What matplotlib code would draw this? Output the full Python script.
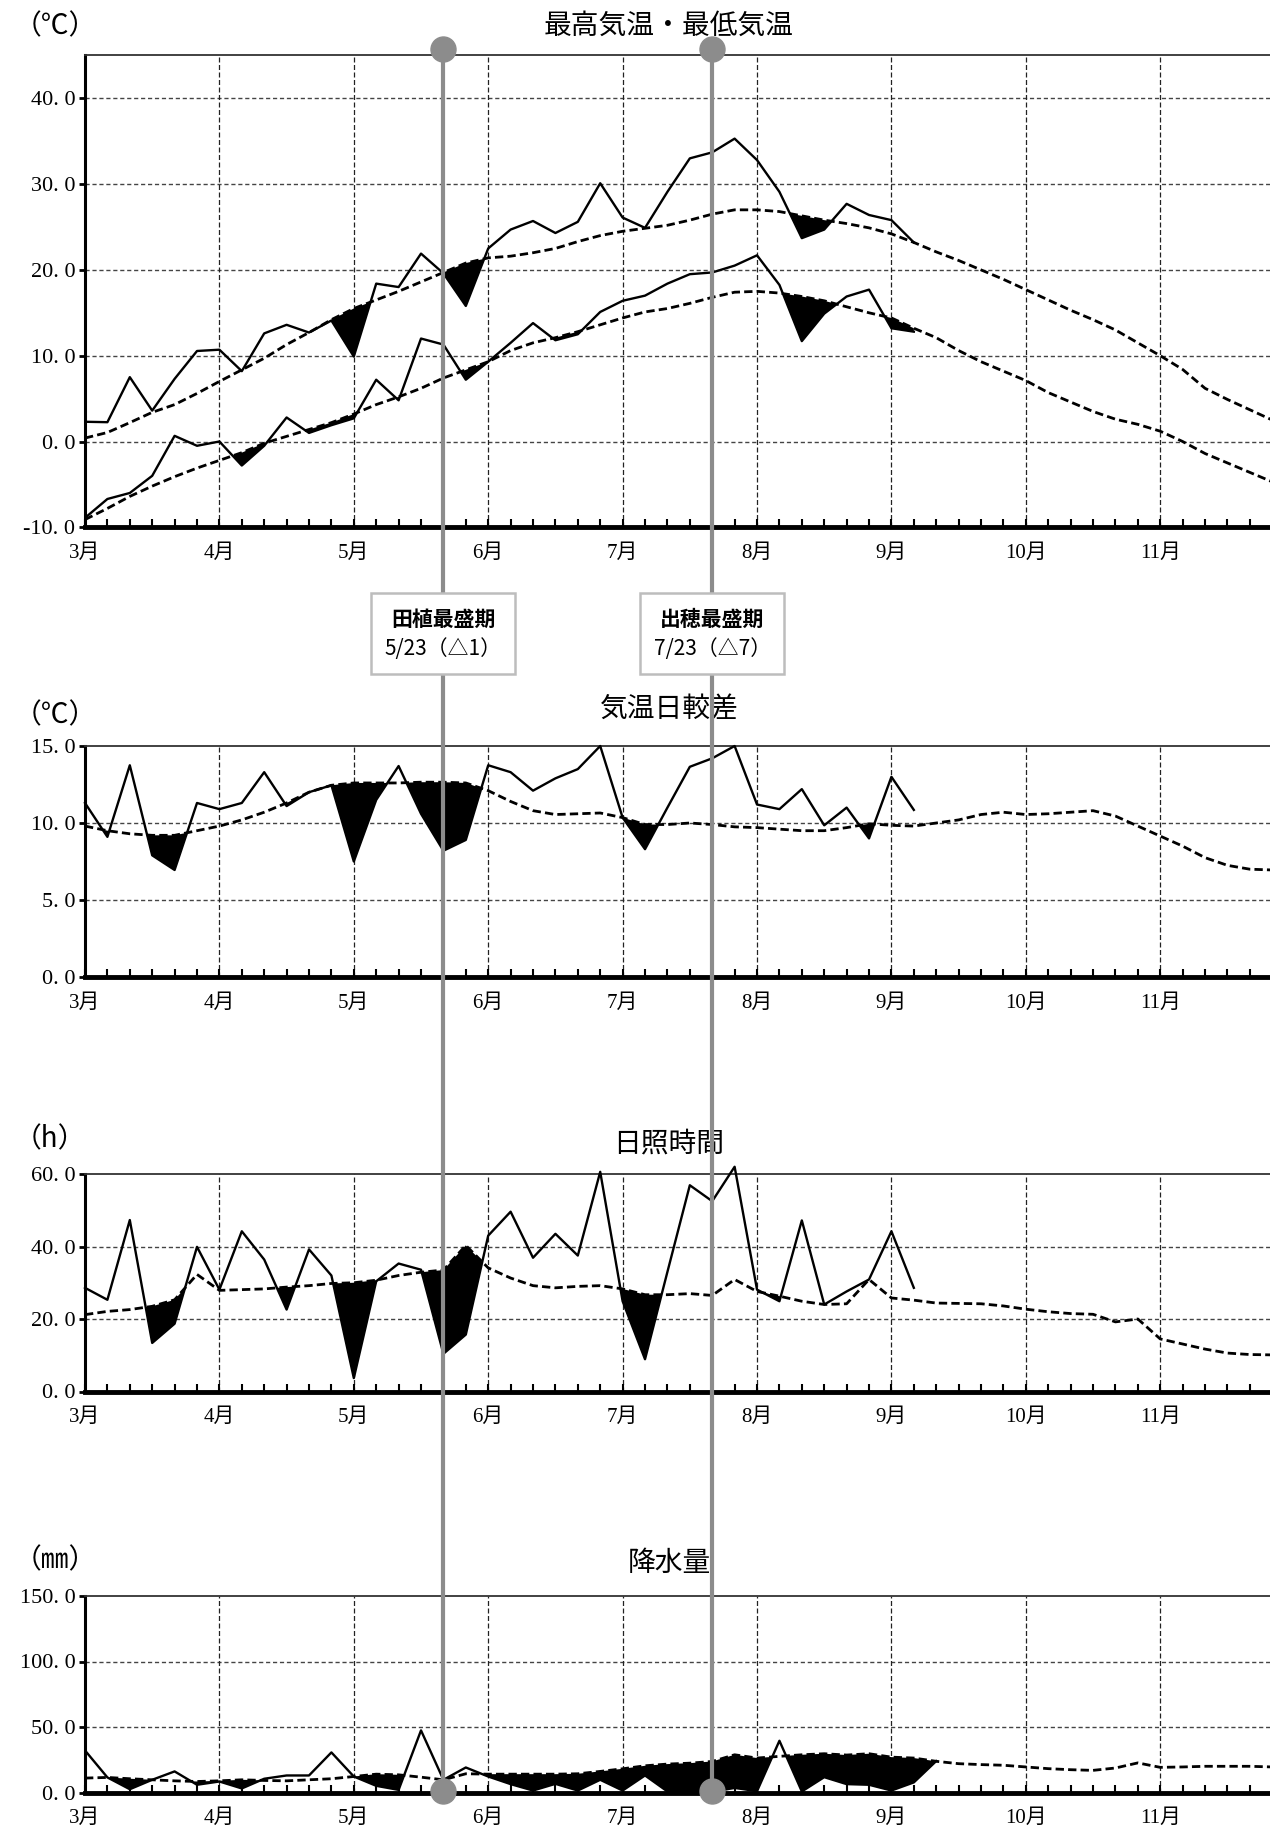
import numpy as np
import matplotlib.pyplot as plt
from matplotlib.lines import Line2D
from matplotlib.patches import Rectangle

plt.rcParams['font.family'] = ['Liberation Serif', 'Noto Sans CJK JP']

# pentad (半旬) values, index 0 = 1st pentad of March
tmax_obs = [2.3, 2.25, 7.5, 3.6, 7.3, 10.55, 10.7, 8.2, 12.6, 13.6, 12.7, 14.1, 9.9, 18.4, 18.0, 21.9,
            19.6, 15.8, 22.5, 24.7, 25.7, 24.3, 25.6, 30.1, 26.1, 24.9, 29.1, 33.0, 33.7, 35.3, 32.8,
            29.1, 23.7, 24.7, 27.7, 26.4, 25.8, 23.2]
tmax_norm = [0.4, 1.05, 2.2, 3.4, 4.3, 5.6, 7.0, 8.35, 9.7, 11.3, 12.7, 14.2, 15.5, 16.5, 17.5, 18.6,
             19.7, 20.8, 21.4, 21.6, 22.0, 22.5, 23.3, 24.0, 24.5, 24.85, 25.2, 25.8, 26.5, 27.0, 27.0,
             26.8, 26.3, 25.8, 25.4, 24.9, 24.2, 23.2, 22.1, 21.1, 20.0, 18.9, 17.7, 16.5, 15.3, 14.2,
             13.0, 11.5, 10.0, 8.4, 6.2, 4.9, 3.7, 2.5]
tmin_obs = [-8.9, -6.7, -6.0, -4.0, 0.66, -0.5, 0.0, -2.8, -0.5, 2.8, 1.0, 1.9, 2.7, 7.2, 4.8, 12.0,
            11.3, 7.2, 9.3, 11.5, 13.8, 11.8, 12.5, 15.1, 16.4, 17.0, 18.4, 19.5, 19.7, 20.5, 21.7,
            18.25, 11.7, 14.9, 16.9, 17.7, 13.2, 12.8]
tmin_norm = [-9.1, -7.8, -6.4, -5.2, -4.1, -3.1, -2.2, -1.3, -0.2, 0.6, 1.4, 2.2, 3.2, 4.3, 5.2, 6.2,
             7.4, 8.35, 9.3, 10.6, 11.5, 12.1, 12.8, 13.6, 14.4, 15.1, 15.5, 16.1, 16.8, 17.4, 17.5,
             17.3, 16.9, 16.4, 15.7, 15.0, 14.4, 13.2, 12.1, 10.6, 9.3, 8.2, 7.1, 5.7, 4.6, 3.5, 2.6,
             2.0, 1.2, 0.0, -1.4, -2.5, -3.6, -4.7]
rng_obs = [11.3, 9.1, 13.75, 7.9, 6.95, 11.3, 10.9, 11.3, 13.3, 11.1, 12.0, 12.45, 7.5, 11.5, 13.7,
           10.6, 8.2, 8.9, 13.75, 13.3, 12.1, 12.9, 13.5, 15.0, 10.35, 8.3, 11.0, 13.65, 14.2, 15.0,
           11.2, 10.9, 12.2, 9.85, 11.0, 9.0, 13.0, 10.85]
rng_norm = [9.8, 9.5, 9.3, 9.2, 9.2, 9.5, 9.8, 10.2, 10.7, 11.3, 12.0, 12.45, 12.6, 12.6, 12.6, 12.65,
            12.65, 12.6, 12.1, 11.4, 10.8, 10.55, 10.6, 10.65, 10.35, 9.9, 9.9, 10.0, 9.9, 9.75, 9.7,
            9.6, 9.5, 9.5, 9.7, 9.95, 9.85, 9.8, 10.0, 10.2, 10.55, 10.7, 10.55, 10.6, 10.7, 10.8,
            10.45, 9.8, 9.15, 8.5, 7.75, 7.25, 7.0, 6.95]
sun_obs = [28.6, 25.3, 47.3, 13.4, 18.7, 39.9, 28.1, 44.2, 36.4, 22.6, 39.2, 32.0, 3.7, 30.4, 35.3,
           33.6, 10.4, 15.7, 43.0, 49.6, 36.9, 43.5, 37.5, 60.6, 24.9, 8.9, 33.0, 56.9, 52.5, 62.0,
           28.1, 24.9, 47.2, 24.0, 27.6, 30.9, 44.2, 28.6]
sun_norm = [21.2, 22.1, 22.6, 23.5, 25.3, 32.3, 27.9, 28.1, 28.3, 28.8, 29.2, 29.8, 30.0, 30.7, 32.0,
            32.9, 33.5, 40.3, 34.1, 31.3, 29.2, 28.6, 29.0, 29.2, 28.3, 26.7, 26.7, 27.0, 26.5, 30.9,
            27.6, 26.3, 24.9, 24.0, 24.2, 30.9, 25.8, 25.2, 24.4, 24.3, 24.2, 23.6, 22.7, 22.0, 21.5,
            21.3, 19.2, 20.0, 14.5, 13.1, 11.7, 10.6, 10.2, 10.1]
pre_obs = [32.1, 11.5, 2.5, 9.7, 16.1, 5.9, 8.4, 3.1, 10.5, 13.0, 13.0, 30.6, 12.2, 5.1, 2.0, 47.4,
           9.7, 19.1, 12.2, 6.4, 1.5, 6.6, 1.5, 9.7, 1.5, 13.0, 0.8, 0.8, 0.5, 3.5, 1.0, 39.5, 0.8,
           11.7, 6.4, 5.9, 1.5, 7.7, 24.0]
pre_norm = [11.0, 11.5, 10.5, 9.7, 8.9, 8.4, 8.9, 9.7, 9.2, 8.9, 9.7, 10.5, 12.2, 14.0, 13.5, 11.7,
            9.7, 14.3, 14.0, 14.0, 14.0, 14.0, 14.3, 16.1, 18.1, 20.4, 21.7, 22.4, 23.7, 28.8, 26.3,
            27.6, 28.8, 29.6, 28.6, 29.6, 27.0, 26.3, 23.8, 22.0, 21.3, 20.8, 19.5, 18.2, 17.4, 16.9,
            18.7, 22.6, 19.2, 19.5, 20.0, 20.0, 20.0, 19.5]

months = ['3月', '4月', '5月', '6月', '7月', '8月', '9月', '10月', '11月']
month_pos = [0, 6, 12, 18, 24, 30, 36, 42, 48]
x_max = 52.9

events = [16, 28]   # 5/23, 7/23 pentad index
event_names = ['田植最盛期', '出穂最盛期']
event_dates = ['5/23（△1）', '7/23（△7）']

W, H = 1270, 1834
fig = plt.figure(figsize=(W / 100, H / 100), dpi=100)


def add_panel(top, bottom):
    return fig.add_axes([85 / W, 1 - bottom / H, 1 - 85 / W, (bottom - top) / H])


def style(ax, ylim, yticks):
    ax.set_xlim(0, x_max)
    ax.set_ylim(*ylim)
    for t in yticks[1:]:
        if t < ylim[1]:
            ax.axhline(t, color='#444444', lw=1.0, ls=(0, (3, 2)), zorder=1)
    for m in month_pos[1:]:
        ax.axvline(m, color='#222222', lw=0.9, ls=(0, (4, 2)), zorder=1)
    ax.spines['right'].set_visible(False)
    ax.spines['top'].set_linestyle((0, (1, 1)))
    ax.spines['top'].set_linewidth(1.3)
    ax.spines['top'].set_color('#333333')
    ax.spines['left'].set_linewidth(2.2)
    ax.spines['bottom'].set_linewidth(3.5)
    ax.set_yticks(yticks)
    ax.set_yticklabels([('%.1f' % t).replace('.', '. ') for t in yticks], fontsize=16)
    ax.set_xticks(month_pos)
    ax.set_xticklabels(months, fontsize=15)
    ax.set_xticks(np.arange(0, 53), minor=True)
    ax.tick_params(axis='x', which='both', direction='in', length=6, width=1.5, pad=12)
    ax.tick_params(axis='y', direction='out', length=4, width=2, pad=3)


def draw_pair(ax, obs, norm, clip=True):
    xo = np.arange(len(obs))
    xn = np.arange(len(norm))
    o = np.array(obs)
    n = np.array(norm)[:len(obs)]
    ax.fill_between(xo, o, n, where=o < n, interpolate=True, color='black', lw=0, zorder=2)
    ax.plot(xn, norm, color='black', lw=2.0, ls=(0, (3, 1.5)), zorder=3)
    ax.plot(xo, obs, color='black', lw=1.7, zorder=4, clip_on=clip)


ax1 = add_panel(55.4, 527.3)
style(ax1, (-10, 45), [-10, 0, 10, 20, 30, 40])
draw_pair(ax1, tmax_obs, tmax_norm)
draw_pair(ax1, tmin_obs, tmin_norm)

ax2 = add_panel(746, 977)
style(ax2, (0, 15), [0, 5, 10, 15])
draw_pair(ax2, rng_obs, rng_norm, clip=False)

ax3 = add_panel(1174, 1391.5)
style(ax3, (0, 60), [0, 20, 40, 60])
draw_pair(ax3, sun_obs, sun_norm, clip=False)

ax4 = add_panel(1596, 1792.5)
style(ax4, (0, 150), [0, 50, 100, 150])
draw_pair(ax4, pre_obs, pre_norm)

# titles and units
titles = [('最高気温・最低気温', 26, '（℃）', 26), ('気温日較差', 709, '（℃）', 715),
          ('日照時間', 1143, '（h）', 1139), ('降水量', 1563, '（㎜）', 1560)]
for title, ty, unit, uy in titles:
    fig.text(669 / W, 1 - ty / H, title, ha='center', va='center', fontsize=20,
             family='Noto Sans CJK JP')
    fig.text(14 / W, 1 - uy / H, unit, ha='left', va='center', fontsize=20,
             family='Noto Sans CJK JP')

# event lines across all panels
y_top = 1 - 49 / H
y_bot = 1 - 1791 / H
to_fig = fig.transFigure.inverted()
bw, bh = 144 / W, 81 / H
for k, name, date in zip(events, event_names, event_dates):
    xf = to_fig.transform(ax1.transData.transform((k, 0)))[0]
    fig.add_artist(Line2D([xf, xf], [y_top, y_bot], transform=fig.transFigure,
                          color='#8c8c8c', lw=3, zorder=5))
    fig.add_artist(Line2D([xf, xf], [y_top, y_bot], transform=fig.transFigure, ls='none',
                          marker='o', ms=18, color='#8c8c8c', zorder=6))
    yc = 1 - 633 / H
    fig.add_artist(Rectangle((xf - bw / 2, yc - bh / 2), bw, bh, transform=fig.transFigure,
                             fc='white', ec='#bdbdbd', lw=1.8, zorder=7))
    fig.text(xf, yc + 14 / H, name, ha='center', va='center', fontsize=15, fontweight='bold',
             family='Noto Sans CJK JP', zorder=8)
    fig.text(xf, yc - 16 / H, date, ha='center', va='center', fontsize=15,
             family='Noto Sans CJK JP', zorder=8)

plt.savefig('out.png', dpi=100)
